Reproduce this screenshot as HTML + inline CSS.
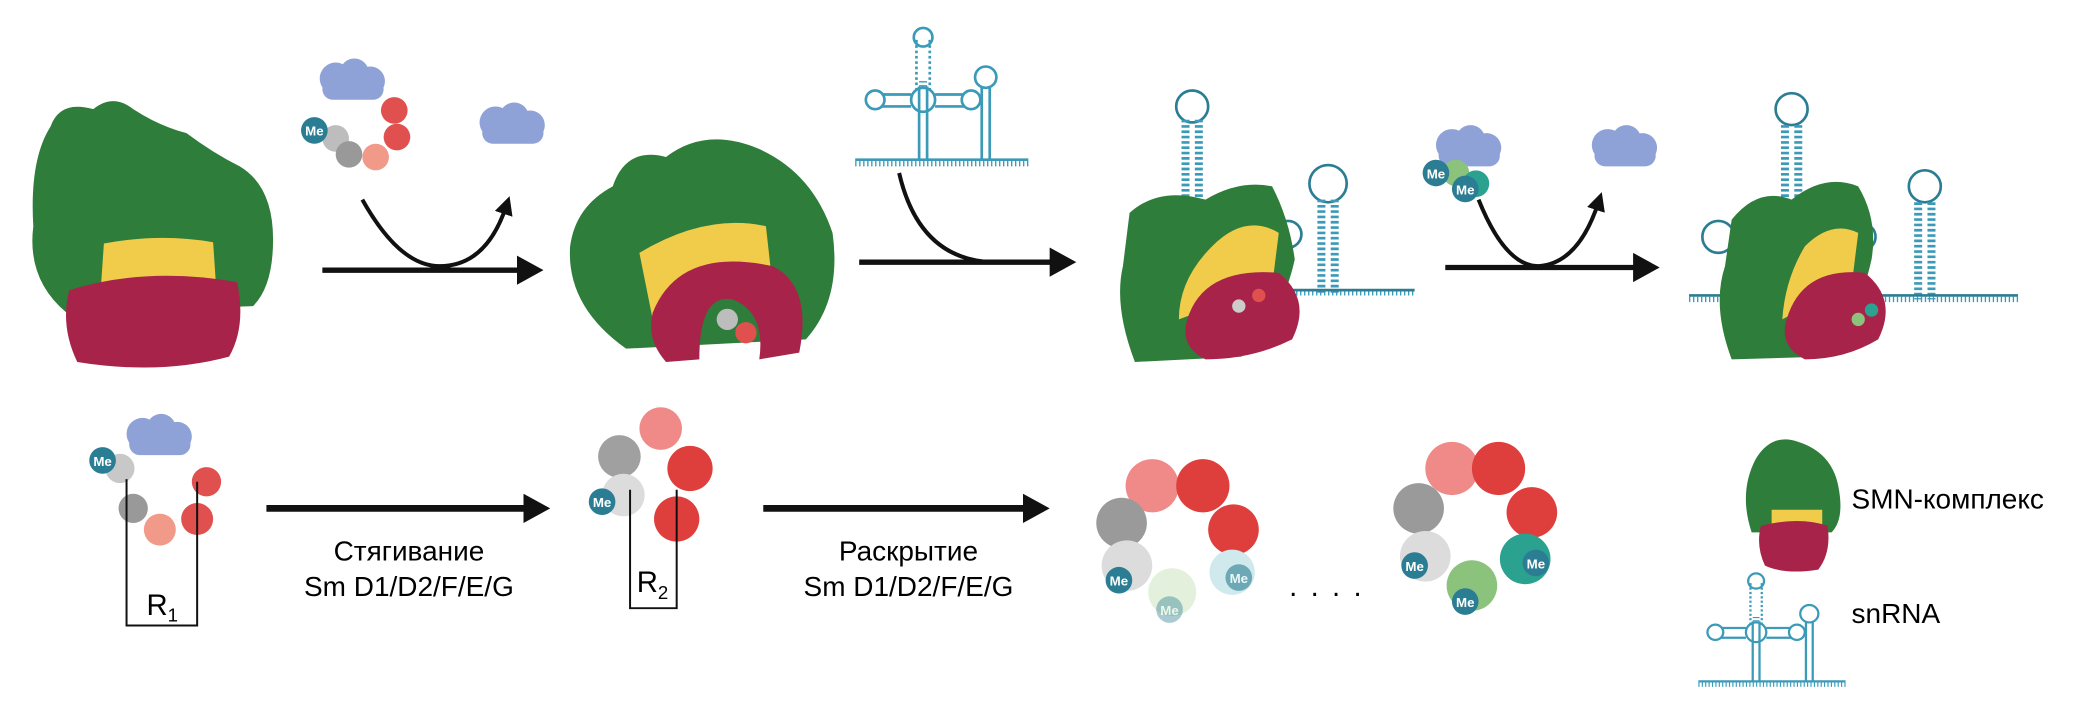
<!DOCTYPE html>
<html><head><meta charset="utf-8"><style>
html,body{margin:0;padding:0;background:#fff;width:2078px;height:708px;overflow:hidden}
svg{display:block}
text{font-family:"Liberation Sans","DejaVu Sans",sans-serif}
</style></head><body>
<svg width="2078" height="708" viewBox="0 0 1560 532" preserveAspectRatio="none" xmlns="http://www.w3.org/2000/svg">
<defs>
<marker id="ah" markerWidth="20" markerHeight="22" refX="10" refY="11" orient="auto" markerUnits="userSpaceOnUse"><path d="M0,0 L20,11 L0,22 z" fill="#111"/></marker>
<marker id="ah2" markerWidth="14" markerHeight="14" refX="6" refY="7" orient="auto" markerUnits="userSpaceOnUse"><path d="M0,0 L14,7 L0,14 z" fill="#111"/></marker>
<g id="cloud"><circle cx="12" cy="14" r="12"/><circle cx="26" cy="10" r="11"/><circle cx="38" cy="16" r="11"/><rect x="2" y="14" width="46" height="16" rx="8"/></g>
<g id="me"><circle r="10" fill="#2b7d93"/><text y="4" font-size="10" font-weight="bold" fill="#fff" text-anchor="middle">Me</text></g>
<g id="rna" fill="none" stroke="#3a9ab8" stroke-width="2">
<path d="M0,100 H130" /><path d="M0,103 H130" stroke-dasharray="1 2" stroke-width="4"/>
<path d="M48,100 V45 M54,100 V45" /><path d="M51,45 V40" stroke-width="6" stroke-dasharray="1 2"/>
<circle cx="51" cy="55" r="9"/><path d="M46,10 V48 M56,10 V48" stroke-dasharray="2 2"/>
<circle cx="51" cy="8" r="7"/><path d="M20,51 H42 M20,60 H42 M60,51 H82 M60,60 H82" />
<circle cx="15" cy="55" r="7"/><circle cx="87" cy="55" r="7"/>
<path d="M95,100 V45 M101,100 V45"/><circle cx="98" cy="38" r="8"/>
</g>
</defs>

<!-- complex 1 -->
<path d="M38,95 Q45,75 70,82 Q85,70 100,82 Q120,95 140,100 Q160,115 180,125 Q205,140 205,180 Q205,215 190,230 L50,235 Q20,210 25,170 Q22,120 38,95z" fill="#2e7d3a"/>
<path d="M78,183 Q120,175 160,182 L162,212 Q120,222 76,212 z" fill="#f1cc4a"/>
<path d="M52,218 Q110,200 178,212 Q185,245 172,268 Q120,282 58,272 Q45,245 52,218z" fill="#a8234a"/>

<use href="#cloud" x="240" y="45" fill="#8fa2d8"/>
<circle cx="252" cy="104" r="10" fill="#bdbdbd"/><circle cx="262" cy="116" r="10" fill="#999"/>
<circle cx="282" cy="118" r="10" fill="#f29a8a"/><circle cx="298" cy="103" r="10" fill="#e0504e"/><circle cx="296" cy="83" r="10" fill="#e0504e"/>
<use href="#me" x="236" y="98"/>
<use href="#cloud" x="360" y="78" fill="#8fa2d8"/>

<path d="M242,203 H398" stroke="#111" stroke-width="4" marker-end="url(#ah)"/>
<path d="M272,150 Q300,200 330,200 Q365,200 380,155" stroke="#111" stroke-width="3" fill="none" marker-end="url(#ah2)"/>

<!-- complex 2 -->
<path d="M460,140 Q470,110 500,118 Q530,95 570,112 Q610,130 625,175 Q632,225 605,255 L470,262 Q425,230 428,185 Q432,155 460,140z" fill="#2e7d3a"/>
<path d="M480,190 Q530,160 575,170 L580,215 Q520,200 490,240 Z" fill="#f1cc4a"/>
<path d="M490,235 Q510,185 580,200 Q610,215 600,265 L570,270 Q575,235 550,225 Q525,220 525,270 L500,272 Q485,255 490,235z" fill="#a8234a"/>
<circle cx="546" cy="240" r="8" fill="#bdbdbd"/><circle cx="560" cy="250" r="8" fill="#e0504e"/>

<g transform="translate(642,20)"><use href="#rna"/></g>
<path d="M645,197 H798" stroke="#111" stroke-width="4" marker-end="url(#ah)"/>
<path d="M675,130 Q690,195 745,197" stroke="#111" stroke-width="3" fill="none"/>

<!-- complex 3 -->
<g fill="none" stroke="#2b7d93" stroke-width="2">
<circle cx="895" cy="80" r="12"/><path d="M890,90 V170 M900,90 V170" stroke-dasharray="2 2" stroke-width="6" stroke="#3a9ab8"/>
<circle cx="997" cy="138" r="14"/><path d="M992,150 V220 M1002,150 V220" stroke-dasharray="2 2" stroke-width="6" stroke="#3a9ab8"/>
<path d="M940,220 H1062" stroke="#3a9ab8" stroke-width="4" stroke-dasharray="1 2"/><path d="M940,218 H1062"/>
<circle cx="967" cy="176" r="10"/>
</g>
<path d="M848,160 Q870,140 905,150 Q930,135 955,140 Q968,165 972,195 Q962,240 932,268 L852,272 Q836,230 843,200z" fill="#2e7d3a"/>
<path d="M910,185 Q935,160 960,175 L955,215 Q925,225 885,240 Q885,210 910,185z" fill="#f1cc4a"/>
<path d="M890,245 Q900,200 960,205 Q985,225 970,255 Q940,270 905,270 Q888,262 890,245z" fill="#a8234a"/>
<circle cx="930" cy="230" r="5" fill="#ccc"/><circle cx="945" cy="222" r="5" fill="#e0504e"/>

<use href="#cloud" x="1078" y="95" fill="#8fa2d8"/>
<circle cx="1093" cy="130" r="10" fill="#8cc37c"/><circle cx="1108" cy="138" r="10" fill="#2aa28f"/>
<use href="#me" x="1078" y="130"/><use href="#me" x="1100" y="142"/>
<use href="#cloud" x="1195" y="95" fill="#8fa2d8"/>
<path d="M1085,201 H1236" stroke="#111" stroke-width="4" marker-end="url(#ah)"/>
<path d="M1110,150 Q1130,200 1155,200 Q1185,198 1200,152" stroke="#111" stroke-width="3" fill="none" marker-end="url(#ah2)"/>

<!-- complex 4 -->
<g fill="none" stroke="#2b7d93" stroke-width="2">
<circle cx="1345" cy="82" r="12"/><path d="M1340,94 V170 M1350,94 V170" stroke-dasharray="2 2" stroke-width="6" stroke="#3a9ab8"/>
<circle cx="1445" cy="140" r="12"/><path d="M1440,152 V225 M1450,152 V225" stroke-dasharray="2 2" stroke-width="6" stroke="#3a9ab8"/>
<path d="M1268,225 H1515" stroke="#3a9ab8" stroke-width="4" stroke-dasharray="1 2"/><path d="M1268,222 H1515"/>
<circle cx="1290" cy="178" r="12"/><circle cx="1398" cy="178" r="10"/>
</g>
<path d="M1300,165 Q1320,140 1345,150 Q1370,130 1395,140 Q1410,165 1405,195 Q1395,240 1370,268 L1300,270 Q1285,230 1295,200z" fill="#2e7d3a"/>
<path d="M1355,185 Q1375,165 1395,175 L1390,215 Q1365,225 1338,240 Q1340,210 1355,185z" fill="#f1cc4a"/>
<path d="M1340,245 Q1350,200 1400,205 Q1425,225 1410,255 Q1385,270 1355,270 Q1338,262 1340,245z" fill="#a8234a"/>
<circle cx="1395" cy="240" r="5" fill="#8cc37c"/><circle cx="1405" cy="233" r="5" fill="#2aa28f"/>

<!-- bottom row -->
<use href="#cloud" x="95" y="312" fill="#8fa2d8"/>
<circle cx="90" cy="352" r="11" fill="#c8c8c8"/><circle cx="100" cy="382" r="11" fill="#999"/>
<circle cx="120" cy="398" r="12" fill="#f29a8a"/><circle cx="148" cy="390" r="12" fill="#e0504e"/><circle cx="155" cy="362" r="11" fill="#e0504e"/>
<use href="#me" x="77" y="346"/>
<path d="M95,360 V470 H148 V362" fill="none" stroke="#111" stroke-width="1.5"/>
<text x="110" y="462" font-size="22">R<tspan font-size="14" dy="5">1</tspan></text>

<path d="M200,382 H403" stroke="#111" stroke-width="5" marker-end="url(#ah)"/>
<text x="307" y="421" font-size="21" text-anchor="middle">Стягивание</text>
<text x="307" y="448" font-size="21" text-anchor="middle">Sm D1/D2/F/E/G</text>

<circle cx="496" cy="322" r="16" fill="#f08a88"/><circle cx="465" cy="343" r="16" fill="#a0a0a0"/>
<circle cx="518" cy="352" r="17" fill="#de3e3c"/><circle cx="468" cy="372" r="16" fill="#dcdcdc"/>
<circle cx="508" cy="390" r="17" fill="#de3e3c"/>
<use href="#me" x="452" y="377"/>
<path d="M473,368 V457 H508 V368" fill="none" stroke="#111" stroke-width="1.5"/>
<text x="478" y="445" font-size="22">R<tspan font-size="14" dy="5">2</tspan></text>

<path d="M573,382 H778" stroke="#111" stroke-width="5" marker-end="url(#ah)"/>
<text x="682" y="421" font-size="21" text-anchor="middle">Раскрытие</text>
<text x="682" y="448" font-size="21" text-anchor="middle">Sm D1/D2/F/E/G</text>

<circle cx="865" cy="365" r="20" fill="#f08a88"/><circle cx="903" cy="365" r="20" fill="#de3e3c"/>
<circle cx="926" cy="398" r="19" fill="#de3e3c"/><circle cx="842" cy="393" r="19" fill="#9a9a9a"/>
<circle cx="846" cy="425" r="19" fill="#dcdcdc"/><circle cx="925" cy="430" r="17" fill="#cfe9ec"/>
<circle cx="880" cy="445" r="18" fill="#e3f1dc"/>
<use href="#me" x="840" y="436"/><use href="#me" x="930" y="434" opacity="0.6"/><use href="#me" x="878" y="458" opacity="0.4"/>
<text x="1000" y="448" font-size="22" text-anchor="middle" letter-spacing="10">....</text>

<circle cx="1090" cy="352" r="20" fill="#f08a88"/><circle cx="1125" cy="352" r="20" fill="#de3e3c"/>
<circle cx="1150" cy="385" r="19" fill="#de3e3c"/><circle cx="1065" cy="382" r="19" fill="#9a9a9a"/>
<circle cx="1070" cy="418" r="19" fill="#dcdcdc"/><circle cx="1145" cy="420" r="19" fill="#2aa28f"/>
<circle cx="1105" cy="440" r="19" fill="#8cc37c"/>
<use href="#me" x="1062" y="425"/><use href="#me" x="1153" y="423"/><use href="#me" x="1100" y="452"/>

<path d="M1318,345 Q1330,325 1350,332 Q1375,340 1380,365 Q1385,390 1375,400 L1315,400 Q1305,370 1318,345z" fill="#2e7d3a"/>
<path d="M1330,383 H1368 V395 H1330z" fill="#f1cc4a"/>
<path d="M1322,395 Q1350,388 1372,395 Q1375,415 1365,428 Q1340,432 1325,425 Q1318,410 1322,395z" fill="#a8234a"/>
<text x="1390" y="382" font-size="21">SMN-комплекс</text>
<g transform="translate(1275,430) scale(0.85,0.82)"><use href="#rna"/></g>
<text x="1390" y="468" font-size="21">snRNA</text>
</svg>
</body></html>
